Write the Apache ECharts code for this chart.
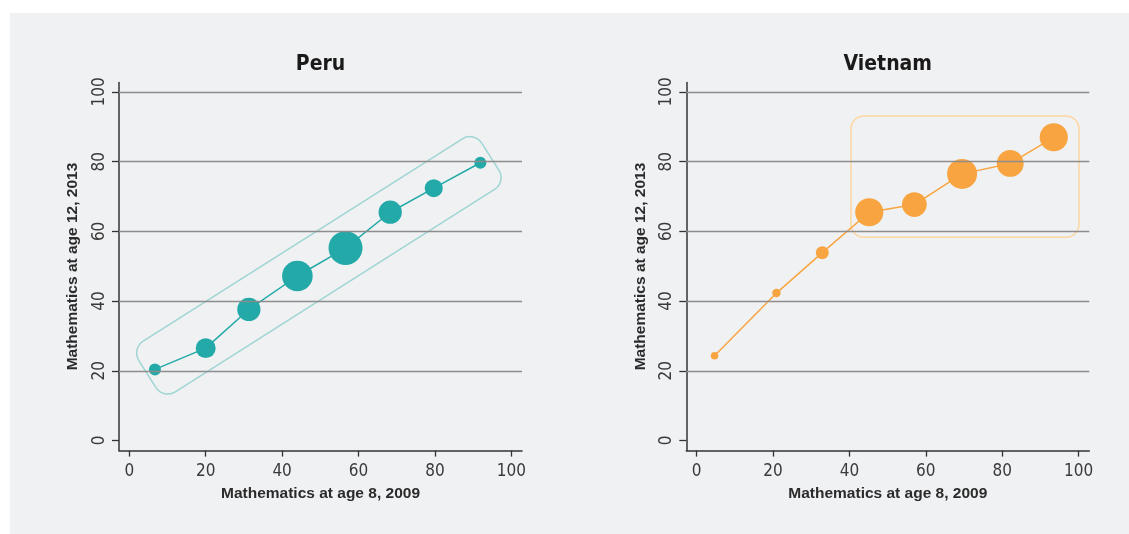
<!DOCTYPE html>
<html>
<head>
<meta charset="utf-8">
<script src="https://cdn.jsdelivr.net/npm/echarts@6/dist/echarts.min.js"></script>
<style>
  html, body { margin: 0; padding: 0; background: #ffffff; }
  #panel { position: absolute; left: 10px; top: 13px; width: 1119px; height: 521px; background: #f0f1f3; }
  #chart { position: absolute; left: 0; top: 0; width: 1129px; height: 534px; }
</style>
</head>
<body>
<div id="panel"></div>
<div id="chart"></div>
<script>
// ---- data ----
const panelTitles = ['Peru', 'Vietnam'];
const xAxisTitle = 'Mathematics at age 8, 2009';
const yAxisTitle = 'Mathematics at age 12, 2013';
const tickValues = [0, 20, 40, 60, 80, 100];
const gridValues = [20, 40, 60, 80, 100];

const peruX = [6.7, 20.0, 31.3, 44.0, 56.6, 68.3, 79.7, 91.9];
const peruY = [20.4, 26.5, 37.6, 47.2, 55.2, 65.5, 72.4, 79.7];
const peruWeight = [4, 11, 15, 26, 32, 15, 9, 4];

const vietX = [4.7, 20.9, 32.9, 45.2, 57.0, 69.5, 82.1, 93.5];
const vietY = [24.3, 42.3, 53.9, 65.5, 67.7, 76.5, 79.5, 87.0];
const vietWeight = [1.6, 2, 4.7, 22, 17, 25, 20, 22];

// highlight boxes, in data coordinates
const peruBoxAxis = [[4.74, 19.06], [94.5, 81.46]];   // centre line of rotated box
const vietBoxCorners = [[40.4, 93.1], [100.1, 58.3]];  // top-left, bottom-right

// ---- styles ----
const TEAL = '#22a9a8', TEAL_BOX = '#9fd5d3';
const ORANGE = '#f8a541', ORANGE_BOX = '#fdd6a0';
const NARROW = '"Liberation Sans Narrow", "Arial Narrow", "DejaVu Sans Condensed", sans-serif';
const SANS = '"Liberation Sans", Arial, sans-serif';
const AX_COLOR = '#333333';

const grids = [
  { left: 119, top: 82.4, width: 403, height: 368.2 },
  { left: 686.3, top: 82.4, width: 403, height: 368.2 }
];

function xAxisCfg(i) {
  return {
    gridIndex: i, type: 'value', min: -2.7, max: 102.8,
    name: xAxisTitle, nameLocation: 'middle', nameGap: 35.5,
    nameTextStyle: { fontFamily: SANS, fontWeight: 'bold', fontSize: 15.5, color: '#2b2b2b' },
    axisLine: { show: true, onZero: false, lineStyle: { color: AX_COLOR, width: 1.5 } },
    axisTick: { show: true, customValues: tickValues, length: 6, lineStyle: { color: AX_COLOR, width: 1.3 } },
    axisLabel: { customValues: tickValues, margin: 12, fontFamily: NARROW, fontSize: 17, color: '#3a3a3a' },
    splitLine: { show: false }
  };
}
function yAxisCfg(i) {
  return {
    gridIndex: i, type: 'value', min: -2.9, max: 102.75,
    name: yAxisTitle, nameLocation: 'middle', nameGap: 38, nameRotate: 90,
    nameTextStyle: { fontFamily: SANS, fontWeight: 'bold', fontSize: 15.5, color: '#2b2b2b' },
    axisLine: { show: true, onZero: false, lineStyle: { color: AX_COLOR, width: 1.5 } },
    axisTick: { show: true, customValues: tickValues, length: 7, lineStyle: { color: AX_COLOR, width: 1.3 } },
    axisLabel: { customValues: tickValues, margin: 11, rotate: 90, fontFamily: NARROW, fontSize: 17, color: '#3a3a3a' },
    splitLine: { show: false }
  };
}

function gridLineSeries(i) {
  return {
    type: 'line', xAxisIndex: i, yAxisIndex: i, data: [], z: 1,
    markLine: {
      silent: true, symbol: 'none', animation: false,
      label: { show: false },
      lineStyle: { color: '#8d8d8d', width: 1.3, type: 'solid' },
      data: gridValues.map(v => ({ yAxis: v }))
    }
  };
}

function dataSeries(i, xs, ys, ws, color) {
  return {
    type: 'line', xAxisIndex: i, yAxisIndex: i, z: 3,
    data: xs.map((x, k) => [x, ys[k]]),
    symbol: 'circle', showSymbol: true, showAllSymbol: true,
    symbolSize: (v, p) => 6 * Math.sqrt(ws[p.dataIndex]),
    lineStyle: { color: color, width: 1.5 },
    itemStyle: { color: color, borderWidth: 0 },
    animation: false
  };
}

const chart = echarts.init(document.getElementById('chart'), null, { renderer: 'canvas' });
chart.setOption({
  backgroundColor: 'transparent',
  animation: false,
  title: panelTitles.map((t, i) => ({
    text: t, left: grids[i].left + grids[i].width / 2, top: 54, textAlign: 'center', padding: 0,
    textStyle: { fontFamily: NARROW, fontWeight: 'bold', fontSize: 21, color: '#1a1a1a' }
  })),
  grid: grids,
  xAxis: [xAxisCfg(0), xAxisCfg(1)],
  yAxis: [yAxisCfg(0), yAxisCfg(1)],
  series: [
    gridLineSeries(0), gridLineSeries(1),
    dataSeries(0, peruX, peruY, peruWeight, TEAL),
    dataSeries(1, vietX, vietY, vietWeight, ORANGE)
  ]
});

// annotation boxes positioned through the axes' scales
const a = chart.convertToPixel({ gridIndex: 0 }, peruBoxAxis[0]);
const b = chart.convertToPixel({ gridIndex: 0 }, peruBoxAxis[1]);
const len = Math.hypot(b[0] - a[0], b[1] - a[1]);
const ang = Math.atan2(-(b[1] - a[1]), b[0] - a[0]);
const halfW = 30;
const c1 = chart.convertToPixel({ gridIndex: 1 }, vietBoxCorners[0]);
const c2 = chart.convertToPixel({ gridIndex: 1 }, vietBoxCorners[1]);

chart.setOption({
  graphic: [
    {
      type: 'rect', x: a[0], y: a[1], rotation: ang, z: 2, silent: true,
      shape: { x: 0, y: -halfW, width: len, height: 2 * halfW, r: 14 },
      style: { fill: 'none', stroke: TEAL_BOX, lineWidth: 1.5 }
    },
    {
      type: 'rect', z: 2, silent: true,
      shape: { x: c1[0], y: c1[1], width: c2[0] - c1[0], height: c2[1] - c1[1], r: 13 },
      style: { fill: 'none', stroke: ORANGE_BOX, lineWidth: 1.5 }
    }
  ]
});
</script>
</body>
</html>
